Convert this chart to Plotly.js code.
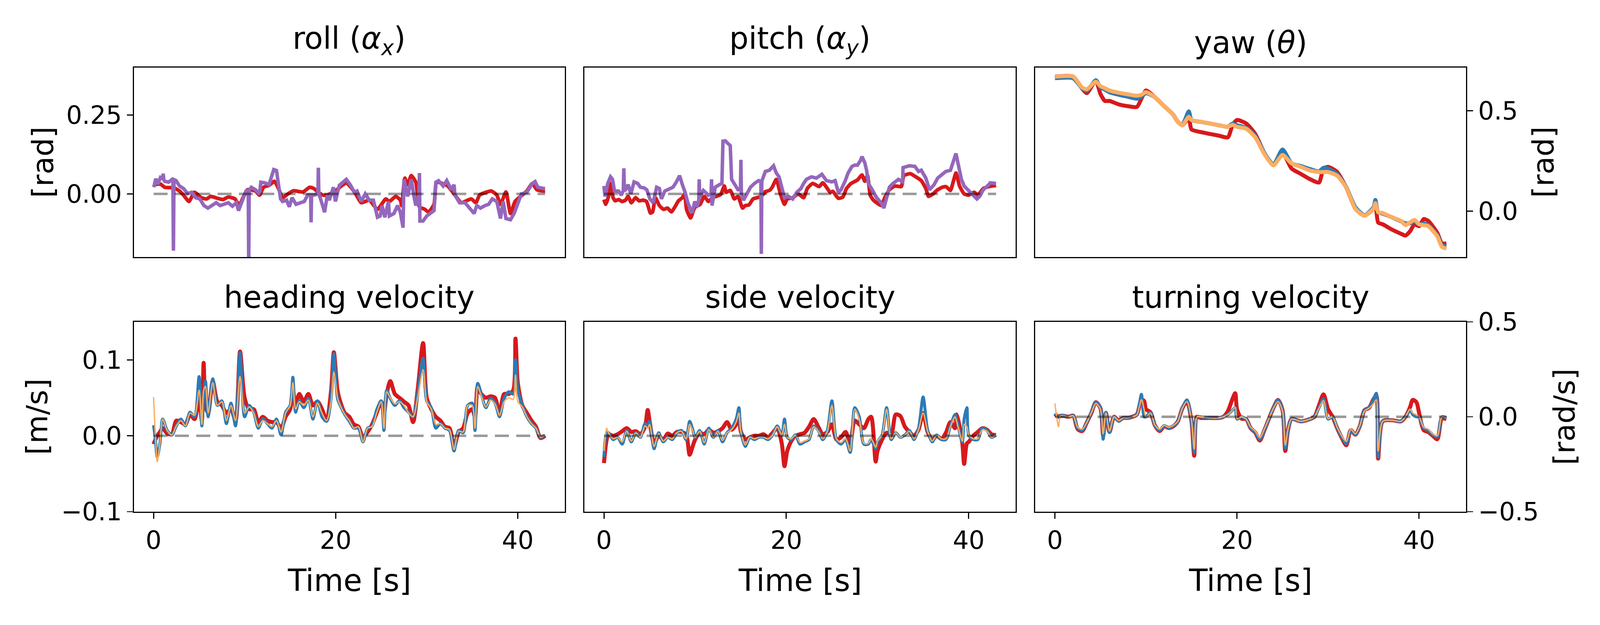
<!DOCTYPE html>
<html>
<head>
<meta charset="utf-8">
<script src="https://cdn.plot.ly/plotly-3.0.1.min.js"></script>
<style>html,body{margin:0;padding:0;background:#fff;overflow:hidden;width:100%;height:100%;}#chart{position:absolute;left:0;top:0;}</style>
</head>
<body>
<div id="chart"></div>
<script>
// ---------------- data ----------------
const rollRedT = [0.00,0.76,1.21,2.25,2.85,3.29,3.89,4.48,5.23,5.82,6.27,7.02,7.61,8.21,8.95,9.40,9.70,10.30,11.19,11.64,12.08,12.68,13.27,13.72,14.17,14.76,15.36,16.40,17.15,17.60,18.05,18.63,19.08,20.12,20.71,21.17,21.60,22.20,22.80,23.69,24.59,25.50,25.90,26.60,27.10,27.25,27.60,27.90,28.30,28.80,29.20,29.80,30.20,30.80,31.10,32.30,33.10,33.80,34.90,35.40,35.80,36.50,37.10,37.70,38.10,38.70,39.20,39.70,40.30,41.00,41.60,42.10,42.90,43.00];
const rollRed = [0.029,0.031,0.021,0.019,0.009,-0.004,-0.024,0.005,-0.012,-0.016,-0.008,-0.014,-0.018,-0.010,-0.016,-0.037,-0.020,0.013,0.009,-0.004,0.021,0.027,0.040,0.017,-0.012,0.000,0.010,0.006,0.021,0.017,0.006,-0.004,-0.004,0.013,0.027,0.035,0.023,0.000,-0.028,-0.020,-0.049,-0.016,-0.024,-0.008,-0.020,-0.037,0.050,0.029,0.058,0.037,-0.041,-0.049,-0.058,-0.033,0.037,0.025,-0.004,-0.028,-0.016,-0.028,-0.004,0.005,0.009,-0.004,-0.033,0.006,-0.062,-0.024,-0.008,0.009,0.033,0.013,0.009,0.009];
const rollPurpleT = [0.02,0.24,0.46,0.76,1.00,1.06,1.12,1.21,1.65,2.12,2.18,2.24,2.47,2.85,3.29,3.74,4.19,4.63,5.08,5.53,5.97,6.42,6.87,7.31,7.76,8.21,8.66,9.10,9.33,9.70,10.15,10.40,10.45,10.50,10.74,11.19,11.64,11.78,12.23,12.68,12.98,13.20,13.50,13.80,13.95,14.17,14.61,14.91,15.21,15.65,16.10,16.55,16.92,17.25,17.30,17.35,17.60,18.05,18.10,18.15,18.30,18.78,19.08,19.30,19.75,19.97,20.40,21.17,21.60,22.06,22.35,22.80,23.25,23.69,24.14,24.59,24.89,25.10,25.40,25.80,25.90,26.40,26.80,27.10,27.40,27.50,27.90,28.30,28.60,28.80,29.15,29.20,29.25,29.60,30.00,30.40,30.80,31.00,31.30,31.80,32.20,32.70,33.00,33.10,33.60,34.20,34.60,35.20,35.50,35.90,36.40,36.80,37.20,37.70,38.10,38.40,38.70,39.20,39.60,40.00,40.40,41.00,41.60,41.90,42.20,42.90,43.00];
const rollPurple = [0.021,0.048,0.031,0.052,0.048,0.064,0.045,0.040,0.037,0.048,-0.180,0.045,0.042,0.025,0.017,0.001,0.005,-0.012,-0.016,-0.037,-0.045,-0.035,-0.028,-0.037,-0.033,-0.028,-0.039,-0.028,-0.053,-0.028,0.009,0.012,-0.230,0.012,0.021,0.013,0.000,0.037,0.035,0.029,0.058,0.077,0.074,0.013,-0.016,-0.024,-0.020,-0.041,-0.012,-0.033,-0.028,-0.024,-0.004,-0.004,-0.090,-0.004,-0.004,0.000,0.083,0.000,-0.012,-0.058,-0.004,-0.020,0.021,-0.024,0.027,0.046,0.029,0.005,0.009,-0.024,0.000,-0.020,-0.020,-0.074,-0.070,-0.037,-0.074,-0.024,-0.070,-0.062,-0.037,-0.058,-0.107,0.046,-0.008,0.046,-0.008,-0.037,0.000,0.066,-0.086,-0.086,-0.070,-0.062,-0.053,0.037,0.042,0.025,0.042,0.013,0.029,-0.004,-0.028,-0.028,-0.041,-0.062,-0.037,-0.045,-0.037,-0.033,-0.016,-0.024,-0.078,-0.024,-0.078,-0.082,-0.062,-0.028,0.000,0.005,0.033,0.039,0.021,0.017,0.017];

const pitchRedT = [0.00,0.20,0.50,0.75,1.00,1.24,1.60,1.98,2.36,2.65,3.00,3.47,3.85,4.30,4.67,5.10,5.34,5.64,6.08,6.53,6.97,7.40,7.87,8.17,8.60,8.84,9.06,9.50,9.96,10.55,11.00,11.45,11.90,12.30,12.80,13.20,13.40,13.85,14.30,14.70,15.20,15.50,15.90,16.35,16.80,17.26,17.70,18.15,18.45,18.90,19.35,19.80,20.10,20.70,21.30,21.90,22.30,22.90,23.60,24.00,24.50,24.80,25.10,25.70,26.20,26.60,27.10,27.80,28.30,28.60,28.90,29.20,29.50,29.90,30.40,30.80,31.30,31.90,32.60,32.90,33.60,34.20,34.80,35.30,35.60,36.10,36.50,37.10,37.50,38.00,38.30,38.60,39.00,39.50,40.00,40.60,41.00,41.60,42.20,43.00];
const pitchRed = [-0.018,-0.033,-0.008,0.033,-0.012,-0.022,-0.018,-0.024,-0.020,-0.008,-0.028,-0.012,-0.022,-0.020,-0.024,-0.061,-0.057,-0.012,-0.037,-0.049,-0.045,-0.057,-0.037,-0.022,-0.012,0.000,-0.049,-0.076,-0.043,-0.033,-0.008,-0.024,-0.012,-0.008,-0.002,0.025,0.005,0.011,-0.016,-0.008,-0.045,-0.037,-0.035,-0.016,-0.012,-0.008,0.007,0.011,0.021,0.046,0.000,-0.033,-0.016,-0.012,0.000,-0.012,0.017,0.033,0.023,0.035,0.017,0.005,0.008,-0.014,-0.010,0.017,0.033,0.044,0.060,0.040,0.058,-0.004,-0.018,-0.028,-0.037,-0.012,0.013,0.025,0.023,0.058,0.064,0.054,0.042,0.017,-0.008,0.000,0.011,0.021,0.023,0.011,0.038,0.066,0.025,0.000,-0.004,0.005,-0.004,0.017,0.023,0.027];
const pitchPurpleT = [0.00,0.12,0.42,0.72,0.94,1.16,1.60,1.90,2.12,2.18,2.24,2.36,2.65,2.95,3.30,3.70,4.00,4.40,4.70,5.04,5.40,5.78,6.08,6.30,6.68,7.10,7.57,7.95,8.30,8.60,8.90,9.20,9.66,9.96,10.20,10.40,10.45,10.50,10.90,11.45,11.75,11.80,11.85,12.20,12.65,12.94,13.05,13.30,13.55,13.85,14.00,14.40,14.70,14.97,15.02,15.07,15.30,15.60,16.07,16.50,16.96,17.21,17.26,17.31,17.70,18.15,18.60,18.90,19.20,19.50,19.80,20.24,20.70,21.15,21.60,21.90,22.20,22.75,23.30,23.90,24.40,24.98,25.35,25.70,26.00,26.47,26.77,27.20,27.50,27.80,28.10,28.30,28.60,28.80,29.00,29.50,29.90,30.40,30.70,31.00,31.30,31.70,32.30,32.75,32.80,33.50,34.10,34.50,34.80,35.30,35.70,36.20,36.60,37.10,37.50,38.00,38.30,38.60,38.90,39.20,39.50,40.00,40.40,40.90,41.20,41.60,42.20,42.35,43.00];
const pitchPurple = [0.025,-0.008,0.033,0.054,0.046,0.009,0.009,-0.004,0.010,0.081,0.010,0.013,0.029,0.000,0.038,0.033,0.021,0.019,0.013,-0.016,-0.028,0.021,0.017,-0.016,0.009,0.015,0.021,0.038,0.058,0.029,0.005,-0.028,-0.061,-0.024,-0.041,-0.020,0.046,-0.010,0.011,-0.004,0.000,0.046,-0.037,0.021,0.029,0.033,0.167,0.168,0.161,0.153,0.046,0.025,0.013,0.013,0.108,0.000,-0.020,-0.004,0.021,0.033,0.042,0.040,-0.190,0.040,0.071,0.075,0.089,0.066,0.054,0.021,-0.012,-0.008,-0.016,0.005,0.017,0.033,0.046,0.054,0.050,0.062,0.042,0.038,0.042,0.005,0.013,0.042,0.066,0.087,0.091,0.091,0.104,0.118,0.099,0.075,0.033,0.009,-0.012,-0.028,-0.045,-0.012,0.021,0.033,0.046,0.038,0.083,0.089,0.087,0.071,0.075,0.050,0.013,0.029,0.050,0.062,0.071,0.075,0.104,0.128,0.087,0.046,0.025,0.009,-0.004,-0.016,-0.008,0.013,0.029,0.035,0.033];

const yawT = [0,2,3,3.5,4.5,5,5.5,6,7,8,9,9.5,10,11,12,13,13.5,14,14.7,15,16,17,18,19,19.5,20,21,22,23,24,25,26,27,28,29,29.5,30,31,32,33,34,35,35.2,35.5,36,37,38,38.5,39,39.5,40,40.5,41,42,42.5,43];
const yawRed = [0.670,0.670,0.610,0.588,0.649,0.584,0.549,0.549,0.532,0.523,0.519,0.560,0.601,0.567,0.523,0.480,0.445,0.428,0.463,0.407,0.394,0.385,0.376,0.368,0.428,0.454,0.437,0.385,0.290,0.229,0.290,0.212,0.186,0.160,0.143,0.212,0.221,0.195,0.117,0.013,-0.022,0.013,0.040,-0.056,-0.065,-0.091,-0.112,-0.121,-0.100,-0.065,-0.074,-0.039,-0.048,-0.108,-0.160,-0.160];
const yawBlue = [0.662,0.662,0.612,0.600,0.652,0.617,0.605,0.592,0.580,0.570,0.560,0.570,0.588,0.567,0.523,0.480,0.445,0.430,0.497,0.454,0.445,0.437,0.428,0.420,0.436,0.428,0.415,0.375,0.290,0.232,0.307,0.238,0.225,0.210,0.198,0.216,0.212,0.185,0.120,0.020,-0.020,0.020,0.056,-0.005,-0.012,-0.030,-0.050,-0.060,-0.060,-0.052,-0.065,-0.061,-0.070,-0.120,-0.168,-0.173];
const yawOrange = [0.670,0.670,0.615,0.607,0.645,0.623,0.612,0.601,0.590,0.582,0.575,0.580,0.593,0.567,0.523,0.480,0.445,0.428,0.470,0.454,0.445,0.437,0.428,0.420,0.430,0.420,0.411,0.368,0.285,0.229,0.280,0.238,0.221,0.203,0.195,0.195,0.195,0.177,0.117,0.013,-0.022,0.013,0.040,-0.005,-0.009,-0.030,-0.048,-0.069,-0.056,-0.043,-0.065,-0.069,-0.074,-0.125,-0.177,-0.186];

const headT = [0,0.2,0.4,0.7,1,1.5,2,2.5,3,3.5,4,4.5,5,5.3,5.5,5.7,6,6.5,7,7.5,8,8.5,9,9.5,10,10.5,11,11.5,12,12.5,13,13.5,14,14.5,15,15.3,15.6,16,16.5,17,17.5,18,18.5,19,19.5,19.8,20.2,20.5,21,21.5,22,22.5,23,23.5,24,24.5,25,25.3,25.6,26,26.5,27,27.5,28,28.5,29,29.6,30,30.5,31,31.5,32,32.5,33,33.5,34,34.5,35,35.3,35.6,36,36.5,37,37.5,38,38.5,39,39.5,39.75,40,40.5,41,41.5,42,42.5,43];
const headBlue = [0.014,-0.005,-0.028,-0.010,0.022,0.007,0.001,0.013,0.022,0.013,0.031,0.025,0.078,0.013,0.050,0.072,0.025,0.075,0.040,0.046,0.016,0.043,0.013,0.109,0.025,0.040,0.031,0.010,0.022,0.016,0.010,0.022,0.001,0.031,0.040,0.077,0.031,0.046,0.037,0.049,0.022,0.046,0.025,0.019,0.049,0.108,0.049,0.040,0.028,0.019,0.010,0.010,-0.008,0.010,0.013,0.034,0.046,0.007,0.060,0.049,0.040,0.046,0.037,0.031,0.025,0.055,0.102,0.046,0.037,0.010,0.016,0.010,0.007,-0.020,0.007,0.004,0.040,0.043,0.007,0.069,0.055,0.037,0.049,0.043,0.025,0.049,0.058,0.055,0.100,0.061,0.040,0.025,0.016,0.010,-0.002,0.001];
const headRed = [-0.011,-0.005,0.000,0.005,0.010,0.003,0.002,0.020,0.018,0.015,0.028,0.022,0.050,0.020,0.096,0.040,0.030,0.072,0.045,0.040,0.030,0.035,0.020,0.111,0.050,0.035,0.035,0.018,0.025,0.020,0.018,0.018,0.010,0.025,0.035,0.060,0.040,0.055,0.045,0.055,0.040,0.045,0.035,0.020,0.060,0.110,0.060,0.045,0.030,0.025,0.015,0.012,-0.002,0.005,0.015,0.030,0.045,0.030,0.055,0.072,0.055,0.050,0.045,0.040,0.018,0.060,0.122,0.050,0.035,0.025,0.020,0.012,0.010,-0.015,0.005,0.010,0.030,0.035,0.025,0.065,0.055,0.050,0.052,0.050,0.030,0.055,0.055,0.060,0.128,0.070,0.040,0.030,0.020,0.012,-0.003,0.000];
const headOrange = [0.051,0.000,-0.034,-0.010,0.022,0.007,0.001,0.013,0.020,0.013,0.030,0.027,0.060,0.015,0.060,0.065,0.030,0.070,0.040,0.045,0.020,0.040,0.020,0.078,0.030,0.038,0.030,0.012,0.020,0.016,0.012,0.020,0.005,0.030,0.040,0.070,0.035,0.045,0.040,0.047,0.025,0.043,0.030,0.020,0.045,0.084,0.050,0.040,0.028,0.020,0.010,0.012,-0.008,0.010,0.012,0.030,0.045,0.010,0.058,0.050,0.042,0.045,0.040,0.030,0.025,0.050,0.087,0.045,0.035,0.015,0.016,0.010,0.008,-0.018,0.006,0.005,0.040,0.040,0.010,0.065,0.052,0.038,0.047,0.042,0.027,0.045,0.050,0.048,0.080,0.045,0.038,0.025,0.016,0.010,-0.002,0.001];

const sideT = [0,0.3,0.5,1,1.5,2,2.5,3,3.5,4,4.5,4.8,5,5.5,6,6.5,7,7.5,8,8.5,9,9.4,9.7,10,10.5,11,11.5,12,12.5,13,13.5,14,14.5,14.8,15,15.5,16,16.5,17,17.5,18,18.5,19,19.5,19.8,20.1,20.5,21,21.5,22,22.5,23,23.5,24,24.5,25,25.5,26,26.5,27,27.5,28,28.5,29,29.3,29.8,30,30.5,31,31.5,32,32.5,33,33.5,34,34.5,35,35.5,36,36.5,37,37.5,38,38.5,38.7,39.3,39.5,39.8,40,40.5,41,41.5,42,42.5,43];
const sideBlue = [-0.028,0.004,0.004,-0.005,-0.002,-0.011,0.007,-0.008,0.004,-0.002,0.016,0.012,0.019,-0.017,0.004,-0.008,-0.002,-0.005,0.004,0.007,-0.005,0.019,0.010,-0.002,0.007,-0.011,0.010,-0.002,0.007,-0.008,0.004,0.010,0.022,0.037,0.007,-0.014,-0.002,-0.005,-0.002,-0.002,-0.005,0.001,0.013,0.001,0.022,-0.002,-0.005,0.001,-0.011,-0.008,-0.005,0.013,0.007,-0.005,0.007,0.046,-0.005,-0.011,-0.005,-0.022,0.037,0.025,-0.011,-0.011,-0.005,-0.017,-0.008,0.001,0.037,-0.005,0.004,-0.002,0.001,0.007,-0.005,0.010,0.051,0.007,-0.008,0.001,-0.005,-0.005,0.013,0.028,0.020,-0.008,0.022,0.037,0.001,-0.005,-0.005,0.010,0.007,-0.002,0.001];
const sideRed = [-0.036,-0.005,0.002,0.000,0.002,0.006,0.010,0.005,0.006,0.002,0.012,0.034,0.020,-0.010,0.000,-0.005,0.003,0.000,0.005,0.005,0.002,-0.025,-0.015,-0.005,0.004,0.002,0.008,0.004,0.006,0.010,0.018,0.008,0.015,0.025,0.006,-0.005,-0.002,0.000,0.000,0.002,-0.002,0.004,0.010,-0.010,-0.040,-0.020,-0.008,0.000,0.002,0.004,0.012,0.022,0.012,0.002,0.005,0.015,-0.005,-0.002,0.005,-0.010,0.020,0.015,0.010,0.022,0.025,-0.034,-0.020,-0.005,0.004,0.002,0.028,0.026,0.012,0.005,0.000,0.008,0.030,0.005,-0.005,0.000,-0.004,0.004,0.018,0.010,0.028,-0.010,-0.037,-0.010,-0.008,0.000,0.005,0.010,0.008,0.002,0.001];
const sideOrange = [-0.020,0.010,0.004,-0.004,-0.002,-0.008,0.006,-0.007,0.004,-0.002,0.013,0.010,0.015,-0.014,0.003,-0.007,-0.002,-0.004,0.004,0.006,-0.004,0.015,0.008,-0.002,0.006,-0.009,0.008,-0.002,0.006,-0.006,0.004,0.008,0.018,0.030,0.006,-0.012,-0.002,-0.004,-0.002,-0.002,-0.004,0.001,0.012,0.001,0.015,-0.002,-0.004,0.001,-0.009,-0.007,-0.004,0.012,0.006,-0.004,0.006,0.040,-0.004,-0.009,-0.004,-0.020,0.035,0.022,-0.010,-0.010,-0.004,-0.015,-0.007,0.001,0.035,-0.004,0.004,-0.002,0.001,0.006,-0.004,0.008,0.030,0.006,-0.007,0.001,-0.004,-0.004,0.012,0.025,0.018,-0.007,0.015,0.012,0.001,-0.004,-0.004,0.008,0.006,-0.002,0.001];

const turnT = [0,0.4,0.6,1,1.5,2,2.5,3,3.5,4,4.5,5,5.3,5.6,6,6.5,7,7.5,8,8.5,9,9.5,9.8,10,10.5,11,11.5,12,12.5,13,13.5,14,14.5,15,15.3,15.6,16,17,18,18.5,19,19.5,19.8,20,20.5,21,21.5,22,22.5,23,24,24.5,25,25.3,25.6,26,27,28,28.5,29,29.5,30,30.5,31,31.5,32,32.5,33,33.5,34,34.5,35,35.3,35.5,36,37,38,38.5,39,39.3,39.7,40,40.5,41,41.5,42,42.5,43];
const turnBlue = [0.018,0.000,0.005,0.006,0.000,0.006,-0.059,-0.071,-0.030,0.024,0.077,0.047,-0.118,0.024,-0.083,0.000,-0.024,-0.006,-0.006,0.000,0.012,0.118,0.000,0.000,0.024,-0.047,-0.071,-0.047,-0.059,-0.047,-0.024,0.047,0.089,-0.024,-0.189,0.000,0.000,-0.006,-0.006,0.000,0.012,0.035,0.047,-0.012,0.000,-0.012,-0.059,-0.083,-0.118,-0.071,0.047,0.089,0.035,-0.165,-0.071,-0.012,-0.024,-0.012,0.000,0.047,0.094,-0.012,0.000,-0.059,-0.106,-0.142,-0.071,-0.094,-0.047,0.035,0.047,0.094,0.124,-0.212,-0.024,-0.018,-0.024,0.000,0.035,0.012,0.000,0.000,-0.059,-0.071,-0.094,-0.106,0.000,-0.006];
const turnRed = [0.015,0.000,0.005,0.005,0.000,0.006,-0.065,-0.075,-0.030,0.020,0.077,0.045,-0.100,0.020,-0.080,0.000,-0.020,-0.006,-0.006,0.000,0.012,0.090,0.083,0.040,0.024,-0.047,-0.075,-0.050,-0.059,-0.050,-0.024,0.045,0.080,-0.024,-0.205,0.000,-0.006,-0.006,-0.006,0.000,0.030,0.094,0.124,0.040,-0.010,-0.012,-0.060,-0.083,-0.125,-0.071,0.047,0.089,0.035,-0.180,-0.071,-0.012,-0.024,-0.012,0.000,0.060,0.118,0.040,0.000,-0.060,-0.110,-0.150,-0.071,-0.094,-0.047,0.035,0.047,0.094,0.110,-0.220,-0.024,-0.018,-0.024,0.000,0.050,0.089,0.077,0.020,-0.070,-0.080,-0.100,-0.118,-0.010,-0.012];
const turnOrange = [0.071,-0.053,0.005,0.006,0.000,0.006,-0.055,-0.065,-0.030,0.020,0.070,0.040,-0.090,0.020,-0.075,0.000,-0.020,-0.006,-0.006,0.000,0.010,0.090,0.040,0.000,0.020,-0.045,-0.065,-0.045,-0.055,-0.045,-0.024,0.045,0.080,-0.020,-0.170,0.000,0.000,-0.006,-0.006,0.000,0.012,0.035,0.050,-0.010,0.000,-0.012,-0.055,-0.075,-0.110,-0.065,0.045,0.080,0.030,-0.150,-0.065,-0.012,-0.024,-0.012,0.000,0.045,0.085,-0.010,0.000,-0.055,-0.100,-0.130,-0.065,-0.090,-0.045,0.030,0.045,0.070,0.090,-0.180,-0.024,-0.018,-0.024,0.000,0.040,0.020,0.010,0.000,-0.055,-0.065,-0.090,-0.100,0.000,-0.006];

const zeroT = [0, 43];
const zeroV = [0, 0];

const panelTitles = ['roll (<i>α</i><sub><i>x</i></sub>)', 'pitch (<i>α</i><sub><i>y</i></sub>)', 'yaw (<i>θ</i>)', 'heading velocity', 'side velocity', 'turning velocity'];
const timeTicks = [0, 20, 40];

// ---------------- sizing: fill the actual viewport ----------------
const REF_W = 4800, REF_H = 1600;
const W = Math.max(100, window.innerWidth || document.documentElement.clientWidth || REF_W);
const H = Math.max(100, window.innerHeight || document.documentElement.clientHeight || REF_H);
const S = Math.min(W / REF_W, H / REF_H);
const px = v => v * S;

const chartDiv = document.getElementById('chart');
chartDiv.style.width = W + 'px';
chartDiv.style.height = H + 'px';

// ---------------- styling ----------------
const RED = '#d7191c', BLUE = '#2c7bb6', ORANGE = '#fdae61', PURPLE = '#9467bd';
const ZERO = 'rgba(0,0,0,0.4)';
const FONT = 'DejaVu Sans, Liberation Sans, sans-serif';

function line(x, y, ax, color, width, smooth) {
  return {x: x, y: y, xaxis: 'x' + ax, yaxis: 'y' + ax, type: 'scatter', mode: 'lines',
          line: {color: color, width: px(width), shape: smooth ? 'spline' : 'linear', smoothing: smooth || 0},
          hoverinfo: 'skip', showlegend: false};
}
function zero(ax) {
  return {x: zeroT, y: zeroV, xaxis: 'x' + ax, yaxis: 'y' + ax, type: 'scatter', mode: 'lines',
          line: {color: ZERO, width: px(7.5), dash: px(42) + 'px,' + px(22) + 'px'}, hoverinfo: 'skip', showlegend: false};
}

const traces = [
  line(rollRedT, rollRed, '', RED, 11, 0.5), line(rollPurpleT, rollPurple, '', PURPLE, 10.5), zero(''),
  line(pitchRedT, pitchRed, 2, RED, 11, 0.5), line(pitchPurpleT, pitchPurple, 2, PURPLE, 10.5), zero(2),
  line(yawT, yawRed, 3, RED, 12, 0.6), line(yawT, yawBlue, 3, BLUE, 12, 0.6), line(yawT, yawOrange, 3, ORANGE, 12, 0.6),
  line(headT, headRed, 4, RED, 12, 0.8), line(headT, headBlue, 4, BLUE, 9, 0.8), line(headT, headOrange, 4, ORANGE, 4, 0.8), zero(4),
  line(sideT, sideRed, 5, RED, 12, 0.8), line(sideT, sideBlue, 5, BLUE, 9, 0.8), line(sideT, sideOrange, 5, ORANGE, 4, 0.8), zero(5),
  line(turnT, turnRed, 6, RED, 12, 0.8), line(turnT, turnBlue, 6, BLUE, 9, 0.8), line(turnT, turnOrange, 6, ORANGE, 4, 0.8), zero(6)
];

// panel boxes in reference pixels, placed as fractions of the page
const colX = [[402, 1694], [1753, 3047], [3106, 4398]];
const rowY = [[173, 658], [824, 1310]];
const xr = [-2.15, 45.15];
const fx = v => v / REF_W;
const fy = v => 1 - v / REF_H;
function xdom(c) { return [fx(colX[c][0]), fx(colX[c][1])]; }
function ydom(r) { return [fy(rowY[r][1]), fy(rowY[r][0])]; }

const tickFont = {family: FONT, size: px(75), color: '#000'};
function xaxis(c, r, anchor) {
  const a = {domain: xdom(c), range: xr, anchor: anchor, showgrid: false, zeroline: false,
    showline: true, mirror: true, linecolor: '#000', linewidth: px(3.5), fixedrange: true};
  if (r === 1) {
    Object.assign(a, {ticks: 'outside', ticklen: px(18), tickwidth: px(3.5), tickcolor: '#000',
      tickvals: timeTicks, ticktext: timeTicks.map(String), tickfont: tickFont, ticklabelstandoff: px(10)});
  } else {
    Object.assign(a, {showticklabels: false, ticks: ''});
  }
  return a;
}
function yaxis(c, r, anchor, range, vals, texts, side) {
  const a = {domain: ydom(r), range: range, anchor: anchor, showgrid: false, zeroline: false,
    showline: true, mirror: true, linecolor: '#000', linewidth: px(3.5), fixedrange: true};
  if (vals) {
    Object.assign(a, {side: side, ticks: 'outside', ticklen: px(18), tickwidth: px(3.5), tickcolor: '#000',
      tickvals: vals, ticktext: texts, tickfont: tickFont, ticklabelstandoff: px(8)});
  } else {
    Object.assign(a, {showticklabels: false, ticks: ''});
  }
  return a;
}

const angleRange = [-0.2, 0.4];
const yawRange = [-0.228, 0.715];
const velRange = [-0.1, 0.15];
const turnRange = [-0.5, 0.5];

const layout = {
  width: W, height: H, margin: {l: 0, r: 0, t: 0, b: 0, pad: 0},
  paper_bgcolor: '#fff', plot_bgcolor: '#fff', showlegend: false,
  font: {family: FONT, color: '#000', size: px(75)},
  xaxis: xaxis(0, 0, 'y'), yaxis: yaxis(0, 0, 'x', angleRange, [0, 0.25], ['0.00', '0.25'], 'left'),
  xaxis2: xaxis(1, 0, 'y2'), yaxis2: yaxis(1, 0, 'x2', angleRange, null),
  xaxis3: xaxis(2, 0, 'y3'), yaxis3: yaxis(2, 0, 'x3', yawRange, [0, 0.5], ['0.0', '0.5'], 'right'),
  xaxis4: xaxis(0, 1, 'y4'), yaxis4: yaxis(0, 1, 'x4', velRange, [-0.1, 0, 0.1], ['\u22120.1', '0.0', '0.1'], 'left'),
  xaxis5: xaxis(1, 1, 'y5'), yaxis5: yaxis(1, 1, 'x5', velRange, null),
  xaxis6: xaxis(2, 1, 'y6'), yaxis6: yaxis(2, 1, 'x6', turnRange, [-0.5, 0, 0.5], ['\u22120.5', '0.0', '0.5'], 'right'),
  annotations: []
};

const titleFont = {family: FONT, size: px(91), color: '#000'};
for (let i = 0; i < 6; i++) {
  const c = i % 3, r = Math.floor(i / 3);
  const cx = fx((colX[c][0] + colX[c][1]) / 2);
  const yb = r === 0 ? fy(156) : fy(808);
  layout.annotations.push({text: panelTitles[i], xref: 'paper', yref: 'paper', x: cx, y: yb,
    xanchor: 'center', yanchor: 'bottom', showarrow: false, font: titleFont});
  if (r === 1) {
    layout.annotations.push({text: 'Time [s]', xref: 'paper', yref: 'paper', x: cx, y: fy(1486),
      xanchor: 'center', yanchor: 'middle', showarrow: false, font: titleFont});
  }
}
const yLabels = [
  {text: '[rad]', x: 128, y: (173 + 658) / 2},
  {text: '[rad]', x: 4629, y: (173 + 658) / 2},
  {text: '[m/s]', x: 111, y: (824 + 1310) / 2},
  {text: '[rad/s]', x: 4693, y: (824 + 1310) / 2}
];
yLabels.forEach(l => layout.annotations.push({text: l.text, xref: 'paper', yref: 'paper',
  x: fx(l.x), y: fy(l.y), xanchor: 'center', yanchor: 'middle', textangle: -90,
  showarrow: false, font: {family: FONT, size: px(88), color: '#000'}}));

Plotly.newPlot(chartDiv, traces, layout, {staticPlot: true, displayModeBar: false});
</script>
</body>
</html>
